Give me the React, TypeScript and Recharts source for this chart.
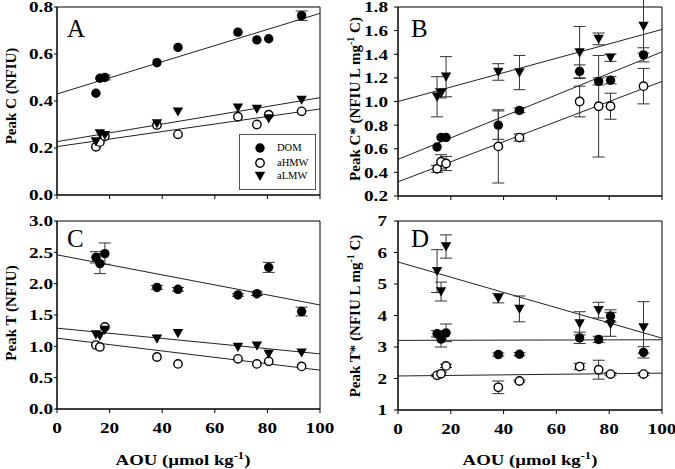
import {
  ComposedChart,
  Scatter,
  XAxis,
  YAxis,
  ErrorBar,
  ReferenceArea,
  Legend,
} from "recharts";

const serif = '"Liberation Serif", "Times New Roman", serif';

// AOU (µmol kg-1) of the nine samples
const aou = [14.8, 16.3, 18.2, 38, 46, 68.8, 76, 80.5, 93];
const xTicks = [0, 20, 40, 60, 80, 100];
const fitX = [0, 100];
const seriesNames = ["DOM", "aHMW", "aLMW"];

// A: Peak C (NFIU)
const domA = [0.433, 0.497, 0.5, 0.563, 0.628, 0.693, 0.66, 0.665, 0.763];
const domAErr = [0, 0, 0.01, 0, 0, 0, 0, 0, 0.02];
const hmwA = [0.205, 0.225, 0.25, 0.298, 0.258, 0.333, 0.3, 0.342, 0.356];
const lmwA = [0.228, 0.262, 0.255, 0.305, 0.355, 0.372, 0.366, 0.326, 0.405];
const fitDomA = [0.43, 0.773];
const fitHmwA = [0.206, 0.366];
const fitLmwA = [0.227, 0.414];
const ticksA = [0, 0.2, 0.4, 0.6, 0.8];

// B: Peak C* (NFIU L mg-1 C)
const domB = [0.615, 0.695, 0.695, 0.8, 0.925, 1.255, 1.17, 1.18, 1.395];
const domBErr = [0, 0, 0, 0.12, 0.02, 0.055, 0.03, 0.03, 0.06];
const hmwB = [0.43, 0.49, 0.475, 0.62, 0.695, 1.0, 0.96, 0.96, 1.13];
const hmwBErr = [0.03, 0.06, 0.06, 0.31, 0.03, 0.13, 0.43, 0.11, 0.15];
const lmwB = [1.04, 1.07, 1.21, 1.25, 1.245, 1.415, 1.53, 1.37, 1.64];
const lmwBErr = [0.17, 0.04, 0.17, 0.07, 0.145, 0.22, 0.05, 0.03, 0.23];
const fitDomB = [0.51, 1.42];
const fitHmwB = [0.32, 1.17];
const fitLmwB = [1.0, 1.61];
const ticksB = [0.2, 0.4, 0.6, 0.8, 1.0, 1.2, 1.4, 1.6, 1.8];

// C: Peak T (NFIU)
const domC = [2.42, 2.32, 2.48, 1.94, 1.91, 1.82, 1.84, 2.26, 1.555];
const domCErr = [0.09, 0.16, 0.17, 0.03, 0.03, 0.02, 0.03, 0.08, 0.07];
const hmwC = [1.02, 0.99, 1.31, 0.83, 0.72, 0.8, 0.72, 0.76, 0.68];
const lmwC = [1.19, 1.17, 1.26, 1.12, 1.21, 0.99, 1.01, 0.88, 0.9];
const fitDomC = [2.46, 1.66];
const fitHmwC = [1.13, 0.62];
const fitLmwC = [1.29, 0.88];
const ticksC = [0, 0.5, 1.0, 1.5, 2.0, 2.5, 3.0];

// D: Peak T* (NFIU L mg-1 C)
const domD = [3.42, 3.25, 3.45, 2.76, 2.77, 3.29, 3.24, 3.98, 2.83];
const domDErr = [0.1, 0.25, 0.28, 0.05, 0.05, 0.18, 0.1, 0.2, 0.18];
const hmwD = [2.1, 2.15, 2.4, 1.72, 1.92, 2.38, 2.28, 2.14, 2.14];
const hmwDErr = [0.03, 0.05, 0.05, 0.2, 0.03, 0.1, 0.3, 0.05, 0.05];
const lmwD = [5.41, 4.76, 6.19, 4.55, 4.21, 3.75, 4.17, 3.72, 3.62];
const lmwDErr = [0.68, 0.3, 0.37, 0.15, 0.41, 0.37, 0.25, 0.38, 0.82];
const fitDomD = [3.21, 3.23];
const fitHmwD = [2.08, 2.17];
const fitLmwD = [5.7, 3.28];
const ticksD = [1, 2, 3, 4, 5, 6, 7];

const pts = (ys: number[], es?: number[]) =>
  ys.map((y, i) => ({ x: aou[i], y, e: es ? es[i] : 0 }));
const fit = (ends: number[]) => fitX.map((x, i) => ({ x, y: ends[i] }));

const FilledDot = (p: any) => <circle cx={p.cx} cy={p.cy} r={4.7} fill="#000" />;
const OpenDot = (p: any) => (
  <circle cx={p.cx} cy={p.cy} r={4.2} fill="#fff" stroke="#000" strokeWidth={1.4} />
);
const DownTri = (p: any) => (
  <path d={`M${p.cx - 5.2},${p.cy - 4.2}h10.4L${p.cx},${p.cy + 5}Z`} fill="#000" />
);
const shapes = [FilledDot, OpenDot, DownTri];

const yTick = (dec: number) => (p: any) => (
  <g transform={`translate(${p.x},${p.y})`}>
    <text
      transform="scale(1.28,1)"
      textAnchor="end"
      dy="0.36em"
      fontFamily={serif}
      fontWeight="bold"
      fontSize={15}
      fill="#000"
    >
      {Number(p.payload.value).toFixed(dec)}
    </text>
  </g>
);

const xTick = (p: any) => (
  <g transform={`translate(${p.x},${p.y})`}>
    <text
      transform="scale(1.28,1)"
      textAnchor="middle"
      dy={10.5}
      fontFamily={serif}
      fontWeight="bold"
      fontSize={15}
      fill="#000"
    >
      {p.payload.value}
    </text>
  </g>
);

function LegendBox() {
  const rows = [14, 29, 42];
  return (
    <div
      style={{
        position: "relative",
        width: 77,
        height: 56,
        boxSizing: "border-box",
        border: "1px solid #555",
        background: "#fff",
      }}
    >
      {seriesNames.map((name, i) => {
        const Shape = shapes[i];
        return (
          <div key={name}>
            <svg
              width={14}
              height={14}
              style={{ position: "absolute", left: 13, top: rows[i] - 8 }}
            >
              <Shape cx={7} cy={7} />
            </svg>
            <span
              style={{
                position: "absolute",
                left: 37,
                top: rows[i] - 7,
                fontFamily: serif,
                fontSize: 10.5,
                lineHeight: "12px",
              }}
            >
              {name}
            </span>
          </div>
        );
      })}
    </div>
  );
}

type PanelProps = {
  left: number;
  top: number;
  width: number;
  height: number;
  margin: { top: number; right: number; bottom: number; left: number };
  xHeight: number;
  domain: [number, number];
  ticks: number[];
  dec: number;
  showX: boolean;
  tickSize: number;
  tickMargin: number;
  values: number[][];
  errors: (number[] | undefined)[];
  fits: number[][];
  legend?: boolean;
};

function Panel(props: PanelProps) {
  const order = [1, 2, 0];
  return (
    <div style={{ position: "absolute", left: props.left, top: props.top }}>
      <ComposedChart width={props.width} height={props.height} margin={props.margin}>
        <XAxis
          type="number"
          dataKey="x"
          domain={[0, 100]}
          ticks={xTicks}
          interval={0}
          allowDataOverflow
          height={props.xHeight}
          tickSize={4}
          tickMargin={9}
          axisLine={{ stroke: "#000" }}
          tickLine={{ stroke: "#000" }}
          tick={props.showX ? xTick : () => <g />}
        />
        <YAxis
          type="number"
          dataKey="y"
          domain={props.domain}
          ticks={props.ticks}
          interval={0}
          allowDataOverflow
          width={50}
          tickSize={props.tickSize}
          tickMargin={props.tickMargin}
          axisLine={{ stroke: "#000" }}
          tickLine={{ stroke: "#000" }}
          tick={yTick(props.dec)}
        />
        <ReferenceArea
          x1={0}
          x2={100}
          y1={props.domain[0]}
          y2={props.domain[1]}
          fill="none"
          stroke="#000"
          strokeWidth={1}
        />
        {props.fits.map((f, i) => (
          <Scatter
            key={"fit" + i}
            data={fit(f)}
            line={{ stroke: "#222", strokeWidth: 1 }}
            shape={() => <g />}
            legendType="none"
            isAnimationActive={false}
          />
        ))}
        {order.map((i) => (
          <Scatter
            key={seriesNames[i]}
            name={seriesNames[i]}
            data={pts(props.values[i], props.errors[i])}
            shape={shapes[i]}
            isAnimationActive={false}
          >
            <ErrorBar dataKey="e" direction="y" width={6} stroke="#333" strokeWidth={1} />
          </Scatter>
        ))}
        {props.legend && (
          <Legend
            layout="vertical"
            align="center"
            verticalAlign="middle"
            wrapperStyle={{ left: 239, top: 134, width: 77, height: 56 }}
            content={() => <LegendBox />}
          />
        )}
      </ComposedChart>
    </div>
  );
}

function YTitle({ cx, cy, children }: { cx: number; cy: number; children: any }) {
  return (
    <div
      style={{
        position: "absolute",
        left: cx - 120,
        top: cy - 9,
        width: 240,
        height: 18,
        lineHeight: "18px",
        textAlign: "center",
        transform: "rotate(-90deg)",
        fontFamily: serif,
        fontWeight: "bold",
        fontSize: 15,
        whiteSpace: "nowrap",
      }}
    >
      {children}
    </div>
  );
}

function XTitle({ cx, top }: { cx: number; top: number }) {
  return (
    <div
      style={{
        position: "absolute",
        left: cx - 100,
        top,
        width: 200,
        lineHeight: "15px",
        textAlign: "center",
        transform: "scaleX(1.25)",
        fontFamily: serif,
        fontWeight: "bold",
        fontSize: 15,
        whiteSpace: "nowrap",
      }}
    >
      AOU (µmol kg<Sup />)
    </div>
  );
}

const Sup = () => (
  <span style={{ fontSize: 10, position: "relative", top: -6 }}>-1</span>
);

function Letter({ left, top, text }: { left: number; top: number; text: string }) {
  return (
    <div
      style={{
        position: "absolute",
        left,
        top,
        fontFamily: serif,
        fontSize: 25,
        lineHeight: "25px",
      }}
    >
      {text}
    </div>
  );
}

export default function App() {
  return (
    <div
      style={{
        position: "absolute",
        left: 0,
        top: 0,
        width: 675,
        height: 469,
        background: "#fff",
        overflow: "hidden",
      }}
    >
      <Panel
        left={0}
        top={0}
        width={335}
        height={215}
        margin={{ top: 7, right: 15, bottom: 0, left: 7 }}
        xHeight={20}
        domain={[0, 0.8]}
        ticks={ticksA}
        dec={1}
        showX={false}
        tickSize={3}
        tickMargin={1}
        values={[domA, hmwA, lmwA]}
        errors={[domAErr, undefined, undefined]}
        fits={[fitDomA, fitHmwA, fitLmwA]}
        legend
      />
      <Panel
        left={335}
        top={0}
        width={340}
        height={215}
        margin={{ top: 7, right: 13, bottom: 0, left: 13 }}
        xHeight={19}
        domain={[0.2, 1.8]}
        ticks={ticksB}
        dec={1}
        showX={false}
        tickSize={4}
        tickMargin={6}
        values={[domB, hmwB, lmwB]}
        errors={[domBErr, hmwBErr, lmwBErr]}
        fits={[fitDomB, fitHmwB, fitLmwB]}
      />
      <Panel
        left={0}
        top={203}
        width={335}
        height={266}
        margin={{ top: 18, right: 15, bottom: 0, left: 7 }}
        xHeight={60}
        domain={[0, 3]}
        ticks={ticksC}
        dec={1}
        showX
        tickSize={3}
        tickMargin={1}
        values={[domC, hmwC, lmwC]}
        errors={[domCErr, undefined, undefined]}
        fits={[fitDomC, fitHmwC, fitLmwC]}
      />
      <Panel
        left={335}
        top={203}
        width={340}
        height={266}
        margin={{ top: 18, right: 13, bottom: 0, left: 13 }}
        xHeight={59}
        domain={[1, 7]}
        ticks={ticksD}
        dec={0}
        showX
        tickSize={4}
        tickMargin={7}
        values={[domD, hmwD, lmwD]}
        errors={[domDErr, hmwDErr, lmwDErr]}
        fits={[fitDomD, fitHmwD, fitLmwD]}
      />

      <YTitle cx={11} cy={96}>Peak C (NFIU)</YTitle>
      <YTitle cx={11} cy={313}>Peak T (NFIU)</YTitle>
      <YTitle cx={355} cy={99}>
        Peak C* (NFIU L mg<Sup /> C)
      </YTitle>
      <YTitle cx={355} cy={316}>
        Peak T* (NFIU L mg<Sup /> C)
      </YTitle>
      <XTitle cx={183} top={453} />
      <XTitle cx={530} top={453} />

      <Letter left={67} top={16} text="A" />
      <Letter left={411} top={16} text="B" />
      <Letter left={67} top={226} text="C" />
      <Letter left={411} top={226} text="D" />
    </div>
  );
}
